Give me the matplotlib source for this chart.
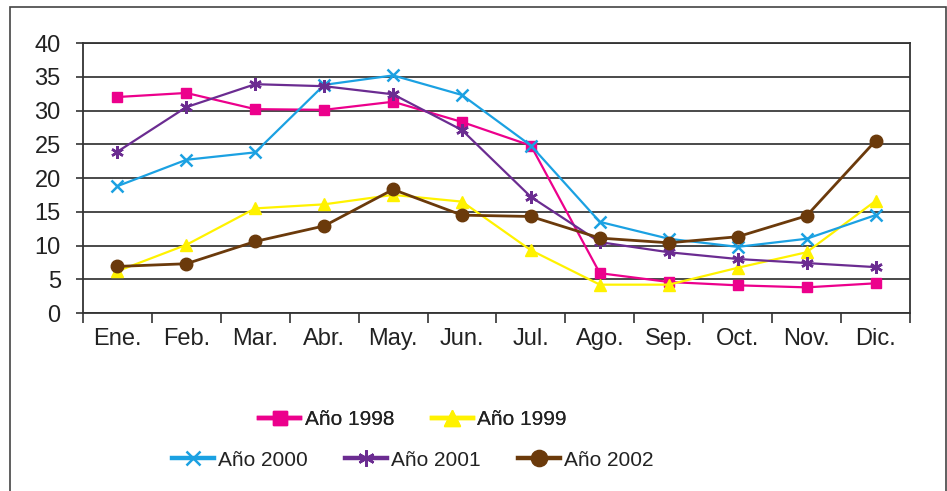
import numpy as np
import matplotlib
matplotlib.use("Agg")
import matplotlib.pyplot as plt
from matplotlib.patches import Rectangle

plt.rcParams['font.family'] = ['Liberation Sans', 'DejaVu Sans']

# -------------------------
# DATA
# -------------------------
months = ["Ene.", "Feb.", "Mar.", "Abr.", "May.", "Jun.",
          "Jul.", "Ago.", "Sep.", "Oct.", "Nov.", "Dic."]

y1998 = [32.0, 32.6, 30.2, 30.1, 31.3, 28.3, 24.8, 5.9, 4.6, 4.1, 3.8, 4.4]
y1999 = [6.2, 10.1, 15.5, 16.1, 17.5, 16.5, 9.3, 4.2, 4.2, 6.7, 9.0, 16.6]
y2000 = [18.8, 22.7, 23.8, 33.8, 35.2, 32.3, 24.8, 13.5, 11.0, 9.8, 11.0, 14.5]
y2001 = [23.9, 30.5, 33.9, 33.6, 32.4, 27.1, 17.2, 10.5, 9.0, 8.0, 7.4, 6.8]
y2002 = [6.9, 7.3, 10.6, 12.9, 18.3, 14.5, 14.3, 11.1, 10.4, 11.3, 14.4, 25.5]

series_labels = ["Año 1998", "Año 1999", "Año 2000", "Año 2001", "Año 2002"]

# -------------------------
# FIGURE SETUP
# -------------------------
fig = plt.figure(figsize=(9.47, 4.91), dpi=100)
ax = fig.add_axes([0.0876, 0.3625, 0.8733, 0.5499])

x = np.arange(len(months))

styles = [
    dict(color="#EC008C", marker="s", ms=7.5, lw=1.6),
    dict(color="#FFF200", marker="^", ms=9, lw=1.6),
    dict(color="#1BA1E2", marker="x", ms=8, mew=1.8, lw=1.6),
    dict(color="#6B2C91", marker=(6, 2, 0), ms=9, mew=1.8, lw=1.6),
    dict(color="#6B3A0B", marker="o", ms=9, lw=2.0),
]

handles = []
for vals, lab, st in zip([y1998, y1999, y2000, y2001, y2002], series_labels, styles):
    h, = ax.plot(x, vals, label=lab, zorder=3, **st)
    handles.append(h)

ax.set_xlim(-0.5, len(months) - 0.5)
ax.set_ylim(0, 40)
ax.set_yticks(np.arange(0, 41, 5))
ax.yaxis.grid(True, color="#3a3a3a", lw=1.3)
ax.set_axisbelow(True)

# boundaries as major ticks, month names on minor ticks
ax.set_xticks(np.arange(-0.5, len(months) + 0.5, 1))
ax.set_xticklabels([])
ax.set_xticks(x, minor=True)
ax.set_xticklabels(months, minor=True)
ax.tick_params(axis="x", which="major", length=7, width=1.2, color="#333333")
ax.tick_params(axis="x", which="minor", length=0, pad=11, labelsize=17, labelcolor="#222222")
ax.tick_params(axis="y", length=5, width=1.2, pad=11, labelsize=17, labelcolor="#222222", color="#333333")

for s in ax.spines.values():
    s.set_color("#333333")
    s.set_linewidth(1.3)

# -------------------------
# LEGEND (two rows)
# -------------------------
leg_kw = dict(frameon=False, fontsize=15, handlelength=2.0, handletextpad=0.2,
              columnspacing=1.8, borderaxespad=0, labelcolor="#222222",
              markerscale=1.3)
leg1 = fig.legend(handles[:2], series_labels[:2], ncol=2, loc="center",
                  bbox_to_anchor=(0.436, 0.145), **leg_kw)
fig.add_artist(leg1)
leg2 = fig.legend(handles[2:], series_labels[2:], ncol=3, loc="center",
                  bbox_to_anchor=(0.436, 0.063), **leg_kw)
for lg in (leg1, leg2):
    for ln in lg.get_lines():
        ln.set_linewidth(3.2)

# outer frame
fig.patches.append(Rectangle((10 / 947, -0.05), 936 / 947, 1.05 - 7 / 491,
                             transform=fig.transFigure, fill=False,
                             edgecolor="#444444", lw=1.2))

fig.savefig("out.png", dpi=100)
